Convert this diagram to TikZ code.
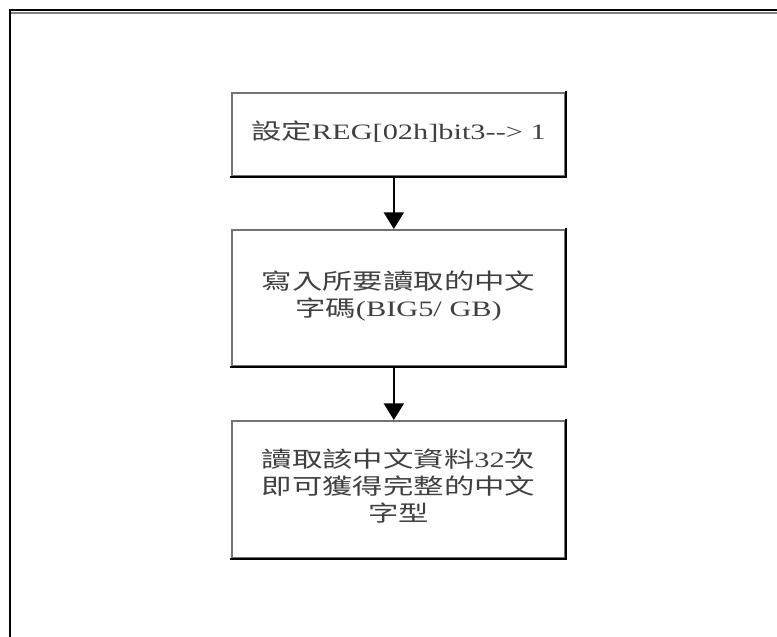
\documentclass[tikz,border=0pt]{standalone}
\usepackage{fontspec}
\usepackage{graphicx}
\setmainfont{Liberation Serif}
\newfontfamily\cjk{Noto Sans CJK TC}
\usetikzlibrary{arrows.meta}
\tikzset{
  stepbox/.style={draw=black!55, line width=1.5pt, fill=white, inner sep=0pt,
    minimum width=249.75pt, text=black!75,
    font=\fontsize{16.5pt}{20.25pt}\selectfont},
  flowarrow/.style={line width=1.5pt, -{Triangle[width=15pt,length=12.5pt]}},
  frameline/.style={line width=1.5pt, black},
}
\newcommand{\stretchtext}[1]{\scalebox{1.38}[1]{\begin{tabular}{@{}c@{}}#1\end{tabular}}}
\begin{document}
\begin{tikzpicture}[x=0.75pt, y=-0.75pt]
\useasboundingbox (0,0) rectangle (777,636);
\fill[white] (-10,-10) rectangle (790,650);
% outer frame
\coordinate (ftr) at (790,10);
\coordinate (ftl) at (9.5,10);
\coordinate (fbl) at (9.5,650);
\draw[black!50, line width=1.5pt] (11,12.5) -- (790,12.5);
\draw[frameline, line cap=butt] (ftr) -- (ftl) -- (fbl);
% boxes
\node[stepbox, minimum height=62.25pt] (b1) at (398.5,134.5)
  {\stretchtext{{\cjk 設定}REG[02h]bit3-{}-> 1}};
\node[stepbox, minimum height=102pt] (b2) at (398.5,298)
  {\stretchtext{{\cjk 寫入所要讀取的中文}\\{\cjk 字碼}(BIG5/ GB)}};
\node[stepbox, minimum height=102.75pt] (b3) at (398.5,489.5)
  {\stretchtext{{\cjk 讀取該中文資料}32{\cjk 次}\\{\cjk 即可獲得完整的中文}\\{\cjk 字型}}};
% darker right/bottom edges
\foreach \b in {b1,b2,b3}{
  \draw[line width=1.5pt, black, line cap=rect] (\b.north east) -- (\b.south east) -- (\b.south west);
}
% arrows
\draw[flowarrow] ([xshift=-3.5pt]b1.south) -- ([xshift=-3.5pt]b2.north);
\draw[flowarrow] ([xshift=-3.5pt]b2.south) -- ([xshift=-3.5pt]b3.north);
\end{tikzpicture}
\end{document}
